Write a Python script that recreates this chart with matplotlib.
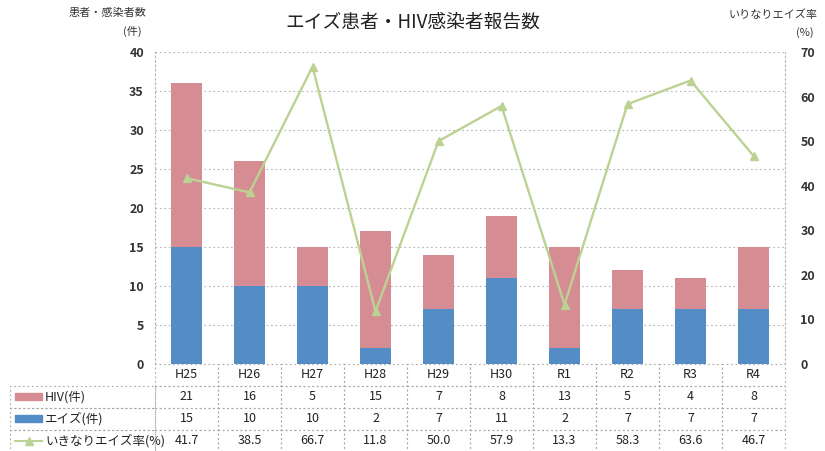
import matplotlib
matplotlib.use("Agg")
import matplotlib.pyplot as plt
from matplotlib.patches import Rectangle
from matplotlib.lines import Line2D

plt.rcParams['font.family'] = ['Noto Sans CJK JP', 'DejaVu Sans']

# ---- data ----
years = ["H25", "H26", "H27", "H28", "H29", "H30", "R1", "R2", "R3", "R4"]
hiv = [21, 16, 5, 15, 7, 8, 13, 5, 4, 8]
aids = [15, 10, 10, 2, 7, 11, 2, 7, 7, 7]
rate = [41.7, 38.5, 66.7, 11.8, 50.0, 57.9, 13.3, 58.3, 63.6, 46.7]
row_names = ["HIV(件)", "エイズ(件)", "いきなりエイズ率(%)"]

RED = "#d58d93"
BLUE = "#548dc6"
GREEN = "#bbd293"
GRID = "#b5b5b5"
W, H = 825, 451


def fx(x):
    return x / W


def fy(y):
    return 1 - y / H


fig = plt.figure(figsize=(8.25, 4.51), dpi=100)
ax = fig.add_axes([fx(155), fy(364), fx(630), 312 / H])
xs = list(range(len(years)))

ax.bar(xs, aids, width=0.5, color=BLUE, zorder=2)
ax.bar(xs, hiv, width=0.5, bottom=aids, color=RED, zorder=2)
ax.set_xlim(-0.5, len(years) - 0.5)
ax.set_ylim(0, 40)
ax.set_yticks(range(0, 41, 5))
ax.set_xticks([])
ax.grid(axis="y", ls=(0, (1.5, 2.5)), color=GRID, lw=0.8, zorder=0)
ax.tick_params(axis="y", length=0, pad=8, labelsize=9, labelcolor="#333333")
for lab in ax.get_yticklabels():
    lab.set_fontweight("bold")
for s in ["top", "bottom"]:
    ax.spines[s].set_visible(False)
for s in ["left", "right"]:
    ax.spines[s].set_linestyle((0, (1.5, 2.5)))
    ax.spines[s].set_color(GRID)
    ax.spines[s].set_linewidth(0.8)

ax2 = ax.twinx()
ax2.plot(xs, rate, color=GREEN, lw=1.7, marker="^", ms=6, mfc=GREEN, mec=GREEN, zorder=3)
ax2.set_ylim(0, 70)
ax2.set_yticks(range(0, 71, 10))
ax2.tick_params(axis="y", length=0, pad=11, labelsize=9, labelcolor="#333333")
for lab in ax2.get_yticklabels():
    lab.set_fontweight("bold")
for s in ax2.spines.values():
    s.set_visible(False)

# ---- data table below the plot ----
cells = [[""] + [str(v) for v in hiv],
         [""] + [str(v) for v in aids],
         [""] + [f"{v:.1f}" for v in rate]]
x0 = (10 - 155) / 630
tbl = ax.table(cellText=cells, colLabels=[""] + years,
               colWidths=[145] + [63] * len(years), cellLoc="center",
               bbox=[x0, -88 / 312, 1 - x0, 88 / 312])
tbl.auto_set_font_size(False)
tbl.set_fontsize(9)
for (r, c), cell in tbl.get_celld().items():
    cell.set_edgecolor("#a8a8a8")
    cell.set_linestyle((0, (1.5, 2.5)))
    cell.set_linewidth(0.8)
    cell.set_facecolor("none")
    cell.get_text().set_color("#222222")
    if r == 0 and c == 0:
        cell.set_visible(False)

# row labels with legend swatches
row_y = [397, 419, 441]
fig.add_artist(Rectangle((fx(15), fy(400)), fx(27), 7 / H, color=RED))
fig.add_artist(Rectangle((fx(15), fy(422)), fx(27), 7 / H, color=BLUE))
fig.add_artist(Line2D([fx(15), fx(42)], [fy(441), fy(441)], color=GREEN, lw=1.5))
fig.add_artist(Line2D([fx(28.5)], [fy(441)], color=GREEN, marker="^", ms=6, ls="none"))
for name, y in zip(row_names, row_y):
    fig.text(fx(45), fy(y), name, ha="left", va="center", fontsize=9, color="#222222")

# ---- titles ----
fig.text(0.5, fy(22), "エイズ患者・HIV感染者報告数", ha="center", va="center",
         fontsize=13.5, color="#222222")
fig.text(fx(146), fy(13), "患者・感染者数", ha="right", va="center", fontsize=8, color="#333333")
fig.text(fx(142), fy(31), "(件)", ha="right", va="center", fontsize=8, color="#333333")
fig.text(fx(818), fy(15), "いりなりエイズ率", ha="right", va="center", fontsize=8, color="#333333")
fig.text(fx(814), fy(33), "(%)", ha="right", va="center", fontsize=8, color="#333333")

fig.savefig("out.png", dpi=100)
